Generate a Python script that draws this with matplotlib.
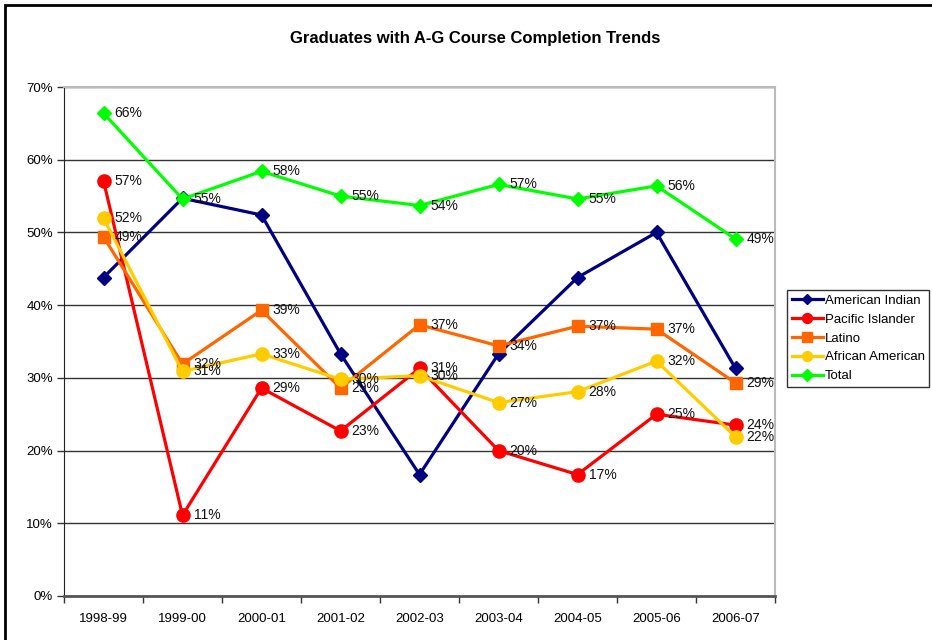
import matplotlib
matplotlib.use("Agg")
import matplotlib.pyplot as plt
from matplotlib.patches import Rectangle
from matplotlib.ticker import FixedLocator, PercentFormatter

plt.rcParams['font.family'] = ['Liberation Sans', 'DejaVu Sans']

years = ["1998-99", "1999-00", "2000-01", "2001-02", "2002-03",
         "2003-04", "2004-05", "2005-06", "2006-07"]
american_indian = [43.8, 54.7, 52.4, 33.3, 16.7, 33.3, 43.8, 50.0, 31.3]
pacific_islander = [57.1, 11.1, 28.6, 22.7, 31.3, 20.0, 16.7, 25.0, 23.5]
latino = [49.4, 31.9, 39.3, 28.6, 37.3, 34.4, 37.1, 36.7, 29.3]
african_american = [52.0, 30.9, 33.3, 29.8, 30.3, 26.6, 28.1, 32.3, 21.9]
total = [66.4, 54.6, 58.4, 55.0, 53.7, 56.6, 54.6, 56.4, 49.1]

# (name, values, colour, marker, marker size, show data labels)
series = [
    ("American Indian", american_indian, "#000080", "D", 7, False),
    ("Pacific Islander", pacific_islander, "#FF0000", "o", 9.5, True),
    ("Latino", latino, "#FF6600", "s", 9, True),
    ("African American", african_american, "#FFCC00", "o", 9.5, True),
    ("Total", total, "#00FF00", "D", 7.5, True),
]

W, H = 932, 640
fig = plt.figure(figsize=(W / 100, H / 100), dpi=100)
fig.patch.set_facecolor("white")

# outer chart border (cut off at right and bottom)
fig.patches.append(Rectangle((5 / W, -0.05), 1.2, (H - 5) / H + 0.05,
                             transform=fig.transFigure, fill=False,
                             edgecolor="black", linewidth=2, zorder=0))

left, right, top, bottom = 64, 775, 87, 596
ax = fig.add_axes([left / W, 1 - bottom / H, (right - left) / W, (bottom - top) / H])

x = list(range(len(years)))
for name, vals, color, marker, ms, show in series:
    ax.plot(x, vals, color=color, linewidth=2.3, marker=marker, markersize=ms,
            markerfacecolor=color, markeredgecolor=color, label=name, zorder=3,
            clip_on=False)
    if show:
        for xi, v in zip(x, vals):
            ax.annotate(f"{round(v):d}%", (xi, v), xytext=(8, 0), textcoords="offset points",
                        ha="left", va="center", fontsize=10, color="#111111", zorder=4)

ax.set_ylim(0, 70)
ax.set_xlim(-0.5, len(years) - 0.5)
ax.yaxis.set_major_locator(FixedLocator(range(0, 71, 10)))
ax.yaxis.set_major_formatter(PercentFormatter(decimals=0))
ax.set_xticks(x)
ax.set_xticklabels(years)
ax.xaxis.set_minor_locator(FixedLocator([i - 0.5 for i in range(len(years) + 1)]))
ax.tick_params(axis="x", which="major", length=0, pad=12, labelsize=9.5)
ax.tick_params(axis="x", which="minor", length=5, width=1, color="#333333", direction="out")
ax.tick_params(axis="y", which="major", length=5, width=1, color="#333333",
               direction="out", labelsize=9.5, pad=3)

ax.grid(axis="y", color="#333333", linewidth=1, zorder=0)
ax.set_axisbelow(True)
for s in ["top", "right"]:
    ax.spines[s].set_color("#bbbbbb")
    ax.spines[s].set_linewidth(1.5)
ax.spines["left"].set_color("#222222")
ax.spines["bottom"].set_color("#555555")
ax.spines["bottom"].set_linewidth(2)

fig.text(475 / W, 1 - 38 / H, "Graduates with A-G Course Completion Trends",
         ha="center", va="center", fontsize=12, fontweight="bold")

leg = fig.legend(loc="upper left", bbox_to_anchor=(787 / W, 1 - 290 / H),
                 frameon=True, fancybox=False, fontsize=9.5, handlelength=2.4,
                 handletextpad=0.1, borderpad=0.35, labelspacing=0.5,
                 borderaxespad=0, markerscale=0.75)
leg.get_frame().set_edgecolor("black")
leg.get_frame().set_linewidth(1)

fig.savefig("out.png", dpi=100)
